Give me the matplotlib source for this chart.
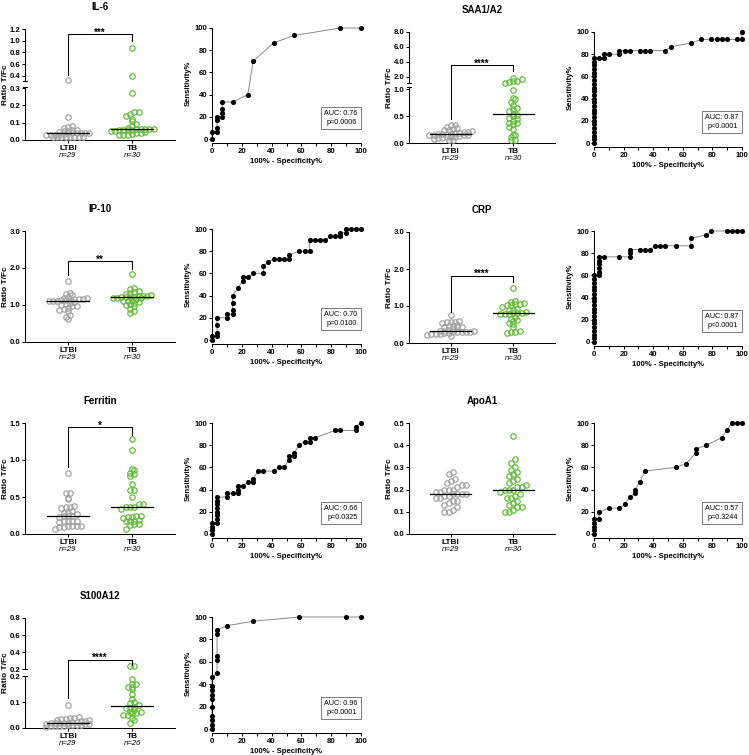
import numpy as np
import matplotlib.pyplot as plt
from matplotlib.ticker import FixedLocator, FormatStrFormatter, MultipleLocator, NullLocator

plt.rcParams['font.family'] = ['Liberation Sans', 'DejaVu Sans']
plt.rcParams['axes.linewidth'] = 0.75
plt.rcParams['xtick.major.width'] = 0.75
plt.rcParams['ytick.major.width'] = 0.75
plt.rcParams['xtick.minor.width'] = 0.75
plt.rcParams['xtick.major.size'] = 2.2
plt.rcParams['ytick.major.size'] = 2.2
plt.rcParams['xtick.minor.size'] = 2.2
plt.rcParams['xtick.major.pad'] = 1.5
plt.rcParams['ytick.major.pad'] = 1.0

W, H = 749, 755
fig = plt.figure(figsize=(W / 100, H / 100), dpi=100)

# ---------------- ratio T/Fc per patient ----------------
groups = ['LTBI', 'TB']

il6_ltbi = [0.33, 0.13, 0.08, 0.075, 0.07, 0.06, 0.058, 0.05, 0.05, 0.048, 0.042, 0.041, 0.04, 0.04,
            0.039, 0.038, 0.032, 0.031, 0.03, 0.03, 0.029, 0.02, 0.02, 0.02, 0.019, 0.019, 0.018,
            0.018, 0.017]
il6_tb = [0.88, 0.40, 0.27, 0.16, 0.16, 0.15, 0.14, 0.12, 0.11, 0.09, 0.08, 0.07, 0.066, 0.064, 0.063,
          0.062, 0.061, 0.060, 0.059, 0.058, 0.057, 0.052, 0.050, 0.045, 0.042, 0.040, 0.033, 0.031,
          0.030, 0.028]

saa_ltbi = [0.34, 0.33, 0.30, 0.28, 0.27, 0.25, 0.24, 0.22, 0.21, 0.20, 0.19, 0.18, 0.175, 0.17, 0.165,
            0.16, 0.155, 0.15, 0.145, 0.14, 0.13, 0.12, 0.11, 0.105, 0.10, 0.09, 0.08, 0.06, 0.05]
saa_tb = [1.82, 1.64, 1.46, 1.41, 1.32, 1.19, 0.98, 0.84, 0.82, 0.76, 0.71, 0.66, 0.63, 0.60, 0.55,
          0.52, 0.50, 0.47, 0.44, 0.41, 0.38, 0.37, 0.36, 0.30, 0.27, 0.15, 0.14, 0.12, 0.06, 0.05]

ip10_ltbi = [1.64, 1.32, 1.31, 1.26, 1.22, 1.20, 1.18, 1.17, 1.16, 1.15, 1.14, 1.13, 1.125, 1.115, 1.11,
             1.10, 1.08, 1.06, 1.04, 1.00, 0.97, 0.96, 0.92, 0.88, 0.87, 0.83, 0.72, 0.68, 0.63]
ip10_tb = [1.85, 1.45, 1.42, 1.38, 1.35, 1.33, 1.30, 1.28, 1.24, 1.23, 1.23, 1.22, 1.22, 1.21, 1.21,
           1.20, 1.20, 1.18, 1.16, 1.14, 1.12, 1.10, 1.07, 1.05, 1.02, 1.00, 0.96, 0.90, 0.84, 0.78]

crp_ltbi = [0.75, 0.60, 0.58, 0.57, 0.56, 0.55, 0.48, 0.46, 0.45, 0.44, 0.43, 0.42, 0.38, 0.36, 0.33,
            0.33, 0.32, 0.31, 0.31, 0.30, 0.30, 0.29, 0.28, 0.26, 0.25, 0.24, 0.23, 0.22, 0.20]
crp_tb = [1.50, 1.14, 1.12, 1.08, 1.06, 1.05, 1.04, 1.02, 0.98, 0.93, 0.90, 0.88, 0.84, 0.82, 0.81,
          0.80, 0.795, 0.79, 0.78, 0.70, 0.66, 0.63, 0.60, 0.55, 0.52, 0.42, 0.32, 0.30, 0.295, 0.28]

ferritin_ltbi = [0.82, 0.55, 0.55, 0.49, 0.47, 0.38, 0.37, 0.36, 0.35, 0.31, 0.28, 0.28, 0.27, 0.25,
                 0.24, 0.24, 0.23, 0.18, 0.18, 0.18, 0.17, 0.16, 0.11, 0.11, 0.11, 0.11, 0.10, 0.10,
                 0.07]
ferritin_tb = [1.29, 1.13, 0.88, 0.87, 0.82, 0.81, 0.79, 0.67, 0.60, 0.60, 0.50, 0.40, 0.40, 0.37, 0.36,
               0.36, 0.34, 0.25, 0.24, 0.23, 0.23, 0.22, 0.19, 0.18, 0.18, 0.17, 0.13, 0.13, 0.12,
               0.07]

apoa1_ltbi = [0.28, 0.27, 0.25, 0.24, 0.23, 0.22, 0.22, 0.21, 0.20, 0.20, 0.20, 0.19, 0.19, 0.18, 0.18,
              0.18, 0.18, 0.17, 0.17, 0.16, 0.16, 0.15, 0.15, 0.14, 0.13, 0.12, 0.11, 0.10, 0.10]
apoa1_tb = [0.44, 0.34, 0.32, 0.30, 0.29, 0.28, 0.27, 0.26, 0.25, 0.24, 0.23, 0.22, 0.21, 0.21, 0.20,
            0.20, 0.20, 0.19, 0.18, 0.17, 0.16, 0.16, 0.15, 0.14, 0.13, 0.12, 0.12, 0.11, 0.10, 0.10]

s100_ltbi = [0.088, 0.042, 0.040, 0.038, 0.036, 0.034, 0.032, 0.030, 0.028, 0.026, 0.024, 0.022, 0.021,
             0.020, 0.020, 0.019, 0.018, 0.016, 0.015, 0.014, 0.013, 0.012, 0.011, 0.010, 0.009, 0.008,
             0.007, 0.006, 0.004]
s100_tb = [0.24, 0.235, 0.19, 0.17, 0.168, 0.16, 0.158, 0.15, 0.13, 0.11, 0.10, 0.098, 0.09, 0.08, 0.079,
           0.078, 0.07, 0.062, 0.06, 0.059, 0.058, 0.05, 0.049, 0.04, 0.03, 0.02]

# ---------------- ROC curves: 100% - specificity, sensitivity ----------------
il6_fpr = [0, 0, 3.4, 3.4, 3.4, 3.4, 6.9, 6.9, 6.9, 6.9, 13.8, 24.1, 27.6, 41.4, 55.2, 86.2, 100]
il6_sens = [0, 6.7, 6.7, 10, 16.7, 20, 20, 23.3, 26.7, 33.3, 33.3, 40, 70, 86.7, 93.3, 100, 100]

saa_fpr = [0, 0, 0, 0, 0, 0, 0, 0, 0, 0, 0, 0, 0, 0, 0, 0, 0, 0, 0, 0, 0, 0, 0, 0,
           3.4, 6.9, 6.9, 10.3, 17.2, 17.2, 20.7, 24.1, 31.0, 34.5, 37.9, 48.3, 51.7, 65.5,
           72.4, 79.3, 82.8, 86.2, 89.7, 96.6, 100, 100]
saa_sens = [0, 3.3, 6.7, 10, 13.3, 16.7, 20, 23.3, 26.7, 30, 33.3, 36.7, 40, 43.3, 46.7, 50, 53.3,
            56.7, 60, 63.3, 66.7, 70, 73.3, 76.7,
            76.7, 76.7, 80, 80, 80, 83.3, 83.3, 83.3, 83.3, 83.3, 83.3, 83.3, 86.7, 90,
            93.3, 93.3, 93.3, 93.3, 93.3, 93.3, 93.3, 100]

ip10_fpr = [0, 0, 3.4, 3.4, 3.4, 3.4, 10.3, 10.3, 13.8, 13.8, 13.8, 13.8, 17.2, 20.7, 20.7, 24.1, 27.6,
            34.5, 34.5, 37.9, 41.4, 44.8, 48.3, 51.7, 51.7, 58.6, 62.1, 65.5, 65.5, 69.0, 72.4, 75.9,
            79.3, 82.8, 86.2, 86.2, 89.7, 89.7, 93.1, 96.6, 100]
ip10_sens = [0, 3.3, 3.3, 6.7, 13.3, 20, 20, 23.3, 23.3, 26.7, 33.3, 40, 46.7, 53.3, 56.7, 56.7, 60,
             60, 66.7, 70, 73.3, 73.3, 73.3, 73.3, 76.7, 80, 80, 80, 90, 90, 90, 90,
             93.3, 93.3, 93.3, 96.7, 96.7, 100, 100, 100, 100]

crp_fpr = [0, 0, 0, 0, 0, 0, 0, 0, 0, 0, 0, 0, 0, 0, 0, 0, 0, 0, 0,
           3.4, 3.4, 3.4, 3.4, 3.4, 3.4, 6.9, 17.2, 24.1, 24.1, 24.1, 31.0, 34.5, 37.9, 41.4, 44.8,
           48.3, 55.2, 65.5, 65.5, 75.9, 79.3, 89.7, 93.1, 96.6, 100]
crp_sens = [0, 3.3, 6.7, 10, 13.3, 16.7, 20, 23.3, 26.7, 30, 33.3, 36.7, 40, 43.3, 46.7, 50, 53.3,
            56.7, 60,
            60, 63.3, 66.7, 70, 73.3, 76.7, 76.7, 76.7, 76.7, 80, 83.3, 83.3, 83.3, 83.3, 86.7, 86.7,
            86.7, 86.7, 86.7, 93.3, 96.7, 100, 100, 100, 100, 100]

ferritin_fpr = [0, 0, 0, 0, 3.4, 3.4, 3.4, 3.4, 3.4, 3.4, 3.4, 3.4, 10.3, 10.3, 13.8, 17.2, 17.2, 17.2,
                20.7, 24.1, 27.6, 27.6, 31.0, 34.5, 41.4, 44.8, 48.3, 51.7, 51.7, 55.2, 55.2, 58.6,
                62.1, 65.5, 65.5, 69.0, 82.8, 86.2, 96.6, 96.6, 100]
ferritin_sens = [0, 3.3, 6.7, 10, 10, 13.3, 16.7, 20, 23.3, 26.7, 30, 33.3, 33.3, 36.7, 36.7, 36.7, 40,
                 43.3, 43.3, 46.7, 46.7, 50, 56.7, 56.7, 56.7, 60, 60, 66.7, 70, 70, 73.3, 80,
                 83.3, 83.3, 86.7, 86.7, 93.3, 93.3, 93.3, 96.7, 100]

apoa1_fpr = [0, 0, 0, 0, 0, 3.4, 3.4, 10.3, 17.2, 20.7, 24.1, 27.6, 27.6, 31.0, 34.5, 55.2, 62.1,
             69.0, 69.0, 75.9, 86.2, 89.7, 93.1, 96.6, 100]
apoa1_sens = [0, 3.3, 6.7, 10, 13.3, 13.3, 20, 23.3, 23.3, 26.7, 33.3, 36.7, 40, 46.7, 56.7, 60, 63.3,
              73.3, 76.7, 80, 86.7, 93.3, 100, 100, 100]

s100_fpr = [0, 0, 0, 0, 0, 0, 0, 0, 0, 0, 3.4, 3.4, 3.4, 3.4, 3.4, 10.3, 27.6, 58.6, 89.7, 100]
s100_sens = [0, 3.8, 7.7, 11.5, 19.2, 26.9, 30.8, 34.6, 38.5, 46.2, 50, 61.5, 65.4, 84.6, 88.5, 92.3,
             96.2, 100, 100, 100]

auc_vals = ['0.76', '0.87', '0.70', '0.87', '0.66', '0.57', '0.96']
p_vals = ['p=0.0006', 'p<0.0001', 'p=0.0100', 'p<0.0001', 'p=0.0325', 'p=0.3244', 'p<0.0001']

GREY = '#a3a3a3'
GREEN = '#63bd3b'


def add_box(x0, y0, x1, y1):
    # box given in pixels from the top-left corner of the figure
    return fig.add_axes([x0 / W, 1 - y1 / H, (x1 - x0) / W, (y1 - y0) / H])


def broken_scale(b, t0, kb, kt, gap):
    yb = b * kb
    yt = yb + gap

    def fwd(y):
        y = np.asarray(y, float)
        mid = yb + (y - b) / (t0 - b) * gap
        return np.where(y <= b, y * kb, np.where(y >= t0, yt + (y - t0) * kt, mid))

    def inv(v):
        v = np.asarray(v, float)
        mid = b + (v - yb) / gap * (t0 - b)
        return np.where(v <= yb, v / kb, np.where(v >= yt, t0 + (v - yt) / kt, mid))

    return fwd, inv


def row_x(ax, xc, vals, h=4.0, s=4.3):
    # GraphPad-like layout: points binned in rows of h px, spread s px apart
    vals = np.asarray(vals, float)
    pix = ax.transData.transform(np.column_stack([np.full(len(vals), float(xc)), vals]))
    ref = ax.transData.transform([(0.0, 0.0), (1.0, 0.0)])
    ppu = ref[1, 0] - ref[0, 0]
    rows = np.floor((pix[:, 1] - ref[0, 1]) / h).astype(int)
    offs = np.zeros(len(vals))
    for r in np.unique(rows):
        idx = np.where(rows == r)[0]
        idx = idx[np.argsort(vals[idx])]
        n = len(idx)
        offs[idx] = (np.arange(n) - (n - 1) / 2) * s
    return xc + offs / ppu


def draw_scatter(p):
    ax = add_box(*p['box'])
    for s in ['top', 'right']:
        ax.spines[s].set_visible(False)
    ax.set_xlim(-0.67, 1.67)
    if p.get('brk'):
        fwd, inv = broken_scale(*p['brk'])
        ax.set_yscale('function', functions=(fwd, inv))
        b, t0 = p['brk'][0], p['brk'][1]
        ax.spines['left'].set_visible(False)
        yt = ax.get_yaxis_transform()
        ax.plot([0, 0], [p['ylim'][0], b], transform=yt, color='black', lw=0.75, clip_on=False)
        ax.plot([0, 0], [t0, p['ylim'][1]], transform=yt, color='black', lw=0.75, clip_on=False)
        ax.plot([-0.012, 0.012], [b, b], transform=yt, color='black', lw=0.75, clip_on=False)
        ax.plot([-0.012, 0.012], [t0, t0], transform=yt, color='black', lw=0.75, clip_on=False)
    ax.set_ylim(*p['ylim'])
    ax.yaxis.set_major_locator(FixedLocator(p['ticks']))
    ax.yaxis.set_minor_locator(NullLocator())
    ax.yaxis.set_major_formatter(FormatStrFormatter('%.1f'))
    ax.set_xticks([0, 1])
    ax.set_xticklabels(groups)
    ax.tick_params(axis='y', labelsize=5.6)
    ax.tick_params(axis='x', labelsize=6)
    for lab in ax.get_xticklabels() + ax.get_yticklabels():
        lab.set_fontweight('bold')
    ax.set_ylabel('Ratio T/Fc', fontsize=6, fontweight='bold')
    ax.yaxis.set_label_coords(-0.11, 0.5)
    ax.set_title(p['title'], fontsize=7, fontweight='bold', pad=14)

    for i, (vals, col) in enumerate([(p['ltbi'], GREY), (p['tb'], GREEN)]):
        xs = row_x(ax, i, vals, h=p.get('row', 4.0))
        ax.plot(xs, vals, 'o', ms=3.9, mfc='none', mec=col, mew=0.9, clip_on=False, zorder=3)
        med = np.median(vals)
        ax.plot([i - 0.33, i + 0.33], [med, med], color='black', lw=0.9, zorder=4)
        ax.annotate(f'n={len(vals)}', xy=(i, 0), xycoords=('data', 'axes fraction'),
                    xytext=(0, -11.5), textcoords='offset points', ha='center', va='center',
                    fontsize=5.6, style='italic')

    if p.get('bracket'):
        lb, top, rb = p['bracket']
        ax.plot([0, 0, 1, 1], [lb, top, top, rb], color='black', lw=0.75, zorder=4)
        ax.annotate(p['stars'], xy=(0.5, top), xytext=(0, -1.2), textcoords='offset points',
                    ha='center', va='baseline', fontsize=7, fontweight='bold')


def draw_roc(p, auc, pv):
    ax = add_box(*p['box'])
    for s in ['top', 'right']:
        ax.spines[s].set_visible(False)
    ax.spines['bottom'].set_position(('outward', 3))
    ax.plot(p['x'], p['y'], color='#8a8a8a', lw=0.7, zorder=2, clip_on=False)
    ax.plot(p['x'], p['y'], 'o', ms=3.7, color='black', mew=0, zorder=3, clip_on=False)
    ax.set_xlim(0, 100)
    ax.set_ylim(0, 100)
    ax.xaxis.set_major_locator(MultipleLocator(20))
    ax.xaxis.set_minor_locator(MultipleLocator(10))
    ax.yaxis.set_major_locator(MultipleLocator(20))
    ax.tick_params(labelsize=5.6)
    for lab in ax.get_xticklabels() + ax.get_yticklabels():
        lab.set_fontweight('bold')
    ax.set_xlabel('100% - Specificity%', fontsize=5.6, fontweight='bold', labelpad=2)
    ax.set_ylabel('Sensitivity%', fontsize=5.6, fontweight='bold', labelpad=2)
    ax.text(0.975, 0.12, f'AUC: {auc}\n{pv}', transform=ax.transAxes, ha='right', va='bottom',
            fontsize=5.2, linespacing=1.25,
            bbox=dict(boxstyle='square,pad=0.45', fc='white', ec='#7a7a7a', lw=0.7))


scatter_panels = [
    dict(title='IL-6', box=(25, 29, 175, 140), ltbi=il6_ltbi, tb=il6_tb,
         brk=(0.305, 0.32, 172.8, 58.4, 6.6), ylim=(0, 1.2),
         ticks=[0, 0.1, 0.2, 0.3, 0.4, 0.6, 0.8, 1.0, 1.2],
         stars='***', bracket=(0.42, 1.11, 0.99)),
    dict(title='SAA1/A2', box=(409, 32, 555, 143), ltbi=saa_ltbi, tb=saa_tb,
         brk=(1.05, 1.1, 53.4, 7.4, 3.5), ylim=(0, 8),
         ticks=[0, 0.5, 1.0, 2.0, 4.0, 6.0, 8.0],
         stars='****', bracket=(0.45, 3.58, 2.68)),
    dict(title='IP-10', box=(25, 231, 175, 342), ltbi=ip10_ltbi, tb=ip10_tb,
         ylim=(0, 3), ticks=[0, 1, 2, 3], stars='**', bracket=(1.80, 2.18, 1.98)),
    dict(title='CRP', box=(409, 232, 555, 343), ltbi=crp_ltbi, tb=crp_tb,
         ylim=(0, 3), ticks=[0, 1, 2, 3], stars='****', bracket=(0.84, 1.82, 1.66)),
    dict(title='Ferritin', box=(25, 423, 175, 534), ltbi=ferritin_ltbi, tb=ferritin_tb,
         ylim=(0, 1.5), ticks=[0, 0.5, 1.0, 1.5], stars='*', bracket=(0.90, 1.45, 1.34), row=5.0),
    dict(title='ApoA1', box=(409, 423, 555, 534), ltbi=apoa1_ltbi, tb=apoa1_tb,
         ylim=(0, 0.5), ticks=[0, 0.1, 0.2, 0.3, 0.4, 0.5], row=7.0),
    dict(title='S100A12', box=(25, 618, 175, 728), ltbi=s100_ltbi, tb=s100_tb,
         brk=(0.2, 0.2001, 260, 86, 6.7), ylim=(0, 0.8),
         ticks=[0, 0.1, 0.2, 0.2001, 0.4, 0.6, 0.8],
         stars='****', bracket=(0.114, 0.316, 0.25)),
]

roc_panels = [
    dict(box=(212, 28, 361, 139), x=il6_fpr, y=il6_sens),
    dict(box=(594, 32, 742, 143), x=saa_fpr, y=saa_sens),
    dict(box=(212, 229, 361, 340), x=ip10_fpr, y=ip10_sens),
    dict(box=(594, 231, 742, 342), x=crp_fpr, y=crp_sens),
    dict(box=(212, 423, 361, 534), x=ferritin_fpr, y=ferritin_sens),
    dict(box=(594, 423, 742, 534), x=apoa1_fpr, y=apoa1_sens),
    dict(box=(212, 617, 361, 729), x=s100_fpr, y=s100_sens),
]

for p in scatter_panels:
    draw_scatter(p)
for p, a, pv in zip(roc_panels, auc_vals, p_vals):
    draw_roc(p, a, pv)

fig.savefig('out.png', dpi=100, facecolor='white')
